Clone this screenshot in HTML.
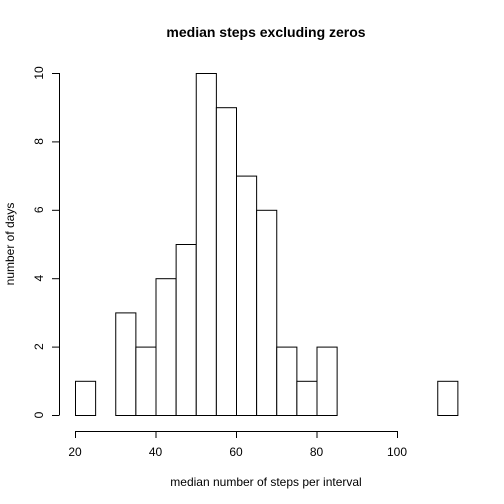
<!DOCTYPE html>
<html><head><meta charset="utf-8"><style>body{margin:0;background:#fff}svg{display:block}text{font-family:"Liberation Sans",sans-serif;fill:#000}</style></head>
<body>
<svg width="504" height="504" id="c">
<text x="266" y="37" text-anchor="middle" font-weight="bold" font-size="14">median steps excluding zeros</text>
<text x="266" y="486" text-anchor="middle" font-size="12">median number of steps per interval</text>
<text transform="translate(14,244) rotate(-90)" text-anchor="middle" font-size="12">number of days</text>
<g id="bars"></g>
<g id="xaxis"></g>
<g id="yaxis"></g>
</svg>
<script>
const binStarts=[20,25,30,35,40,45,50,55,60,65,70,75,80,85,90,95,100,105,110];
const counts=[1,0,3,2,4,5,10,9,7,6,2,1,2,0,0,0,0,0,1];
const binWidth=5;
const xTicks=[20,40,60,80,100];
const yTicks=[0,2,4,6,8,10];
const NS="http://www.w3.org/2000/svg";
function sx(v){return 75+(v-20)*322/80;}
function sy(v){return 415-v*34.2;}
function mk(t,a,p){const e=document.createElementNS(NS,t);for(const k in a)e.setAttribute(k,a[k]);p.appendChild(e);return e;}
const bars=document.getElementById('bars');
binStarts.forEach((b,i)=>{if(counts[i]<=0)return;
const r=mk('rect',{x:sx(b)+0.5,y:sy(counts[i])+0.5,width:sx(b+binWidth)-sx(b),height:sy(0)-sy(counts[i]),fill:'#fff',stroke:'#000','stroke-width':1},bars);

});
const xa=document.getElementById('xaxis');
mk('line',{x1:sx(20),x2:sx(100),y1:431.5,y2:431.5,stroke:'#000'},xa);
xTicks.forEach(t=>{mk('line',{x1:sx(t)+0.5,x2:sx(t)+0.5,y1:431,y2:438,stroke:'#000'},xa);
const tx=mk('text',{x:sx(t),y:456,'text-anchor':'middle','font-size':12},xa);tx.textContent=t;

});
const ya=document.getElementById('yaxis');
mk('line',{x1:59.5,x2:59.5,y1:sy(0),y2:sy(10),stroke:'#000'},ya);
yTicks.forEach(t=>{mk('line',{x1:52,x2:59.5,y1:sy(t)+0.5,y2:sy(t)+0.5,stroke:'#000'},ya);
const tx=mk('text',{transform:`translate(43,${sy(t)}) rotate(-90)`,'text-anchor':'middle','font-size':12},ya);tx.textContent=t;

});
</script>
</body></html>
